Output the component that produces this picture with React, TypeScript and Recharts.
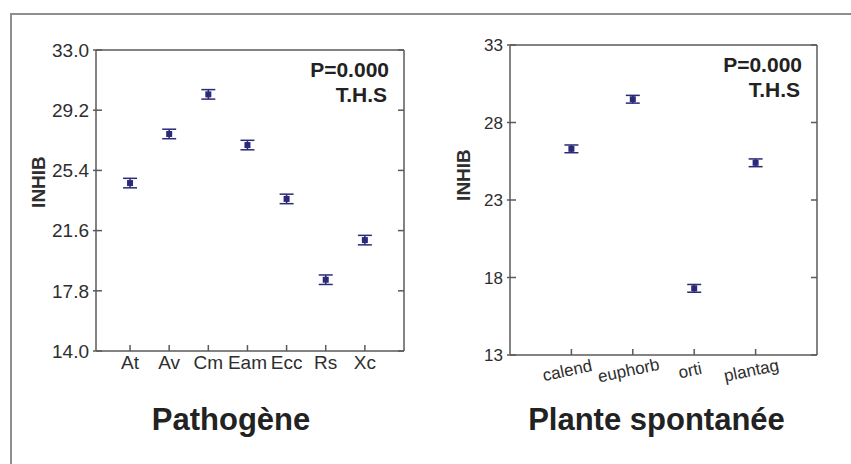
import { ErrorBar, Label, Scatter, ScatterChart, XAxis, YAxis } from "recharts";

const pathogenes = ["At", "Av", "Cm", "Eam", "Ecc", "Rs", "Xc"];
const pathoMeans = [24.6, 27.7, 30.2, 27.0, 23.6, 18.5, 21.0];
const pathoErr = [0.3, 0.3, 0.3, 0.3, 0.3, 0.3, 0.3];
const pathoTicks = [14, 17.8, 21.6, 25.4, 29.2, 33];

const plantes = ["calend", "euphorb", "orti", "plantag"];
const planteMeans = [26.3, 29.5, 17.3, 25.4];
const planteErr = [0.25, 0.25, 0.25, 0.25];
const planteTicks = [13, 18, 23, 28, 33];

const pValue = "P=0.000";
const signif = "T.H.S";

const FONT = '"Liberation Sans", Arial, sans-serif';
const AXIS = "#5a5a5a";
const MARK = "#2a2a78";
const TXT = "#2e2e2e";
const TL = 6; // inward tick length

const box = (x: number, w: number, h: number) => ({
  position: "absolute" as const,
  left: x,
  top: 0,
  width: w,
  height: h,
});

function Marker(props: any) {
  const { cx, cy } = props;
  return <rect x={cx - 3} y={cy - 3} width={6} height={6} fill={MARK} />;
}

// ticks are drawn pointing into the plot; label (if any) outside
function BottomTick(props: any) {
  const { x, y, payload, labels, slanted } = props;
  const name = labels[payload.value - 1];
  return (
    <g>
      <line x1={x} x2={x} y1={y} y2={y - TL} stroke={AXIS} strokeWidth={1.5} />
      {slanted ? (
        <text
          x={x - 3}
          y={y + 21}
          transform={`rotate(-12, ${x - 3}, ${y + 21})`}
          textAnchor="middle"
          fontSize={17}
          fill={TXT}
        >
          {name}
        </text>
      ) : (
        <text x={x} y={y + 18} textAnchor="middle" fontSize={19} fill={TXT}>
          {name}
        </text>
      )}
    </g>
  );
}

function TopTick(props: any) {
  const { x, y } = props;
  return <line x1={x} x2={x} y1={y} y2={y + TL} stroke={AXIS} strokeWidth={1.5} />;
}

function LeftTick(props: any) {
  const { x, y, payload, decimals, fontSize } = props;
  return (
    <g>
      <line x1={x - 3} x2={x + TL} y1={y} y2={y} stroke={AXIS} strokeWidth={1.5} />
      <text x={x - 7} y={y + fontSize * 0.36} textAnchor="end" fontSize={fontSize} fill={TXT}>
        {Number(payload.value).toFixed(decimals)}
      </text>
    </g>
  );
}

function RightTick(props: any) {
  const { x, y } = props;
  return <line x1={x} x2={x - TL} y1={y} y2={y} stroke={AXIS} strokeWidth={1.5} />;
}

function Panel({
  cats,
  means,
  errs,
  yTicks,
  yDomain,
  xDomain,
  title,
  titleShift,
  ylabelX,
  ylabelY,
  decimals,
  slanted,
}: {
  cats: string[];
  means: number[];
  errs: number[];
  yTicks: number[];
  yDomain: [number, number];
  xDomain: [number, number];
  title: string;
  titleShift: number;
  ylabelX: number;
  ylabelY: number;
  decimals: number;
  slanted: boolean;
}) {
  const data = cats.map((c, i) => ({ x: i + 1, y: means[i], err: errs[i], name: c }));
  const xTicks = cats.map((_, i) => i + 1);
  return (
    <ScatterChart
      width={slanted ? 431 : 430}
      height={464}
      margin={slanted ? { top: 44, right: 33, bottom: 0, left: 0 } : { top: 49, right: 25, bottom: 0, left: 0 }}
    >
      <XAxis
        xAxisId="b"
        type="number"
        dataKey="x"
        domain={xDomain}
        ticks={xTicks}
        allowDataOverflow
        height={slanted ? 109 : 113}
        stroke={AXIS}
        strokeWidth={1.5}
        tickLine={false}
        tickSize={0}
        tickMargin={0}
        tick={<BottomTick labels={cats} slanted={slanted} />}
      >
        <Label
          content={({ viewBox }: any) => (
            <text
              x={viewBox.x + viewBox.width / 2 + titleShift}
              y={430}
              textAnchor="middle"
              fontSize={31}
              fontWeight="bold"
              fill="#222"
            >
              {title}
            </text>
          )}
        />
      </XAxis>
      <XAxis
        xAxisId="t"
        orientation="top"
        type="number"
        domain={xDomain}
        ticks={xTicks}
        allowDataOverflow
        height={1}
        stroke={AXIS}
        strokeWidth={1.5}
        tickLine={false}
        tickSize={0}
        tickMargin={0}
        tick={<TopTick />}
      />
      <YAxis
        yAxisId="l"
        type="number"
        dataKey="y"
        domain={yDomain}
        ticks={yTicks}
        allowDataOverflow
        width={slanted ? 90 : 96}
        stroke={AXIS}
        strokeWidth={1.5}
        tickLine={false}
        tickSize={0}
        tickMargin={0}
        tick={<LeftTick decimals={decimals} fontSize={slanted ? 17 : 19} />}
      >
        <Label
          content={() => (
            <text
              x={ylabelX}
              y={ylabelY}
              transform={`rotate(-90, ${ylabelX}, ${ylabelY})`}
              textAnchor="middle"
              fontSize={19}
              fontWeight="bold"
              fill={TXT}
            >
              INHIB
            </text>
          )}
        />
      </YAxis>
      <YAxis
        yAxisId="r"
        orientation="right"
        type="number"
        domain={yDomain}
        ticks={yTicks}
        allowDataOverflow
        width={1}
        stroke={AXIS}
        strokeWidth={1.5}
        tickLine={false}
        tickSize={0}
        tickMargin={0}
        tick={<RightTick />}
      >
        <Label
          content={({ viewBox }: any) => (
            <g fontWeight="bold" fontSize={21} fill="#222" textAnchor="end">
              <text x={viewBox.x - 15} y={viewBox.y + 27}>
                {pValue}
              </text>
              <text x={viewBox.x - 17} y={viewBox.y + 52}>
                {signif}
              </text>
            </g>
          )}
        />
      </YAxis>
      <Scatter
        xAxisId="b"
        yAxisId="l"
        data={data}
        shape={<Marker />}
        isAnimationActive={false}
      >
        <ErrorBar dataKey="err" direction="y" width={7} stroke={MARK} strokeWidth={1.5} />
      </Scatter>
    </ScatterChart>
  );
}

export default function App() {
  return (
    <div
      style={{
        position: "fixed",
        left: 0,
        top: 0,
        width: 851,
        height: 464,
        background: "#fff",
        fontFamily: FONT,
        overflow: "hidden",
      }}
    >
      <div
        style={{
          position: "absolute",
          left: 10,
          top: 13,
          right: -10,
          bottom: -10,
          borderTop: "2px solid #8e8e8e",
          borderLeft: "2px solid #8e8e8e",
        }}
      />
      <div style={box(0, 430, 464)}>
        <Panel
          cats={pathogenes}
          means={pathoMeans}
          errs={pathoErr}
          yTicks={pathoTicks}
          yDomain={[14, 33]}
          xDomain={[0.13, 8]}
          title="Pathogène"
          titleShift={-19}
          ylabelX={45}
          ylabelY={182}
          decimals={1}
          slanted={false}
        />
      </div>
      <div style={box(420, 431, 464)}>
        <Panel
          cats={plantes}
          means={planteMeans}
          errs={planteErr}
          yTicks={planteTicks}
          yDomain={[13, 33]}
          xDomain={[0, 5]}
          title="Plante spontanée"
          titleShift={-7}
          ylabelX={50}
          ylabelY={175}
          decimals={0}
          slanted
        />
      </div>
    </div>
  );
}
